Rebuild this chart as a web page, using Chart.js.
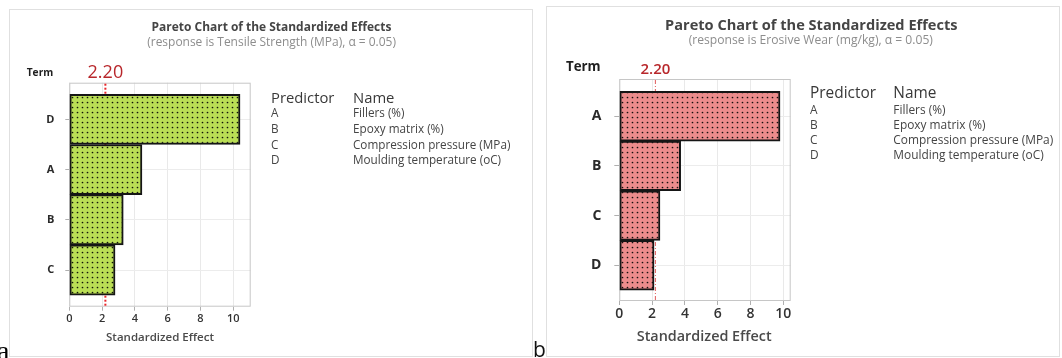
<!DOCTYPE html>
<html><head><meta charset="utf-8">
<script src="https://cdn.jsdelivr.net/npm/chart.js@4.4.1/dist/chart.umd.min.js"></script>
<style>
html,body{margin:0;padding:0;background:#fff;}
#wrap{position:relative;width:1062px;height:358px;overflow:hidden;background:#fff;font-family:'Open Sans',sans-serif;}
.panel{position:absolute;border:1px solid #e0e0e0;box-sizing:border-box;}
.t{position:absolute;white-space:nowrap;line-height:1;}
canvas{position:absolute;top:0;}
</style></head><body>
<div id="wrap">
 <div class="panel" style="left:9px;top:9px;width:524px;height:348px"></div>
 <div class="panel" style="left:546px;top:6px;width:514px;height:351px"></div>
 <canvas id="c1" width="530" height="358" style="left:0"></canvas>
 <canvas id="c2" width="522" height="358" style="left:540px"></canvas>
</div>
<script>
// ---- data ----
const TERMS_A = ['D','A','B','C'];
const EFFECTS_A = [10.41, 4.43, 3.29, 2.79];
const TERMS_B = ['A','B','C','D'];
const EFFECTS_B = [9.80, 3.74, 2.48, 2.12];
const CRITICAL = 2.20;
const X_TICKS = [0, 2, 4, 6, 8, 10];
const PREDICTORS = ['A','B','C','D'];
const NAMES = ['Fillers (%)','Epoxy matrix (%)','Compression pressure (MPa)','Moulding temperature (oC)'];
const TITLE = 'Pareto Chart of the Standardized Effects';
const SUB_A = '(response is Tensile Strength (MPa), \u03b1 = 0.05)';
const SUB_B = '(response is Erosive Wear (mg/kg), \u03b1 = 0.05)';
const X_TITLE = 'Standardized Effect';
const TERM_LABEL = 'Term';

Chart.defaults.font.family = "'Open Sans', sans-serif";

function pattern(fill, step){
  const c = document.createElement('canvas'); c.width = step; c.height = step;
  const g = c.getContext('2d');
  g.fillStyle = fill; g.fillRect(0,0,step,step);
  g.fillStyle = 'rgba(0,0,0,0.9)';
  g.beginPath(); g.arc(step/2, step/2, 0.85, 0, Math.PI*2); g.fill();
  return g.createPattern(c, 'repeat');
}

const paretoPlugin = {
  id: 'pareto',
  beforeDatasetsDraw(chart, args, o){
    const {ctx, chartArea:a} = chart;
    const x = chart.scales.x;
    ctx.save();
    ctx.strokeStyle = '#c6c6c6'; ctx.lineWidth = 1;
    ctx.strokeRect(a.left+0.5, a.top+0.5, a.width-1, a.height-1);
    const px = x.getPixelForValue(o.value);
    ctx.strokeStyle = o.color; ctx.lineWidth = o.width; ctx.setLineDash(o.dash);
    ctx.beginPath(); ctx.moveTo(px, a.top+1); ctx.lineTo(px, a.bottom); ctx.stroke();
    ctx.setLineDash([]);
    ctx.fillStyle = o.labelColor; ctx.font = o.labelFont;
    ctx.textAlign = 'center'; ctx.textBaseline = 'middle';
    ctx.fillText(o.value.toFixed(2), px, o.labelY);
    ctx.restore();
  }
};

function makeChart(id, terms, effects, c){
  return new Chart(document.getElementById(id), {
    type: 'bar',
    data: { datasets: [{
      data: effects.map((v,i)=>({x:v, y:i})),
      backgroundColor: pattern(c.fill, 5),
      borderColor: '#161616', borderWidth: 2, borderSkipped: false,
      barPercentage: 1, categoryPercentage: 1
    }]},
    options: {
      indexAxis: 'y', responsive: false, animation: false,
      layout: { padding: c.pad },
      plugins: {
        legend: {display:false}, tooltip: {enabled:false},
        pareto: { value: CRITICAL, color: c.lineColor, width: c.lineWidth, dash: c.dash,
                  labelColor: '#b8272b', labelFont: c.labelFont, labelY: c.labelY }
      },
      scales: {
        x: {
          type: 'linear', min: 0, max: c.xmax, offset: false,
          afterBuildTicks: s => { s.ticks = X_TICKS.map(v=>({value:v})); },
          afterFit: s => { s.height = 30; },
          grid: { color: '#e9e9e9', tickColor: '#b0b0b0', tickLength: 4, offset: false },
          border: { display: false },
          ticks: { padding: c.xpad, color: '#333', font: {size: c.fs, weight: '600'}, maxRotation: 0, autoSkip: false }
        },
        y: {
          type: 'linear', reverse: true, min: c.ymin, max: c.ymax, offset: false,
          afterBuildTicks: s => { s.ticks = terms.map((t,i)=>({value:i})); },
          afterFit: s => { s.width = 40; },
          grid: { color: '#ececec', tickColor: '#b0b0b0', tickLength: c.ytl, offset: false },
          border: { display: false },
          ticks: { callback: v => terms[v], padding: c.ypad, color: '#2a2a2a', font: {size: c.yfs, weight: '700'}, autoSkip: false }
        }
      }
    },
    plugins: [paretoPlugin]
  });
}

makeChart('c1', TERMS_A, EFFECTS_A, {
  fill: '#bade55', pad: {left:29.3, right:279.3, top:82.7, bottom:21.3},
  xmax: 11.06, ymin: -0.73, ymax: 3.73, fs: 11, yfs: 11, xpad: 2, ypad: 11, ytl: 4,
  lineColor: '#e8262a', lineWidth: 2, dash: [2,2], labelFont: "500 18px 'Open Sans'", labelY: 72.7
});
makeChart('c2', TERMS_B, EFFECTS_B, {
  fill: '#ec8c8c', pad: {left:39.3, right:271.3, top:79, bottom:27},
  xmax: 10.45, ymin: -0.75, ymax: 3.72, fs: 14, yfs: 14, xpad: 1, ypad: 13, ytl: 5,
  lineColor: '#e05a5a', lineWidth: 1, dash: [4,2,1,2], labelFont: "600 15px 'Open Sans'", labelY: 70
});

// ---- HTML text ----
const wrap = document.getElementById('wrap');
function txt(s, o){
  const e = document.createElement('div'); e.className = 't'; e.textContent = s;
  e.style.fontWeight = o.weight || '400'; e.style.color = o.color || '#333';
  if (o.family) e.style.fontFamily = o.family;
  e.style.fontSize = (o.size || 20) + 'px';
  wrap.appendChild(e);
  if (o.w){ const m = e.getBoundingClientRect().width; e.style.fontSize = ((o.size||20)*o.w/m) + 'px'; }
  e.style.left = o.x + 'px'; e.style.top = o.y + 'px';
  e.style.transform = o.align === 'left' ? 'translateY(-50%)' : 'translate(-50%,-50%)';
  return e;
}
function fitSize(s, w, weight){
  const e = txt(s, {x:0, y:-100, size:20, weight});
  const m = e.getBoundingClientRect().width; e.remove(); return 20*w/m;
}
function panelText(p){
  txt(TITLE, {x:p.tx, y:p.ty, w:p.tw, weight:'700', color:'#454545'});
  txt(p.sub, {x:p.sx, y:p.sy, w:p.sw, color:'#8d8d8d'});
  txt(TERM_LABEL, {x:p.termX, y:p.termY, w:p.termW, weight:'700', color:'#1f1f1f'});
  txt(X_TITLE, {x:p.axX, y:p.axY, w:p.axW, weight:'600', color:'#4a4a4a'});
  const hs = fitSize('Predictor', p.predW);
  txt('Predictor', {x:p.lx, y:p.hy, size:hs, align:'left', color:'#383838'});
  txt('Name', {x:p.nx, y:p.hy, size:hs, align:'left', color:'#383838'});
  const rs = fitSize(NAMES[2], p.rowW);
  PREDICTORS.forEach((k,i)=>{
    txt(k, {x:p.lx, y:p.rows[i], size:rs, align:'left', color:'#454545'});
    txt(NAMES[i], {x:p.nx, y:p.rows[i], size:rs, align:'left', color:'#454545'});
  });
}
panelText({tx:271.5, ty:26.7, tw:240, sub:SUB_A, sx:271.6, sy:42.3, sw:249,
  termX:40, termY:72.3, termW:26.6, axX:160, axY:337.3, axW:108,
  predW:63.5, lx:271, nx:353, hy:96.5, rowW:157.5, rows:[113.3,129,144.6,159.6]});
panelText({tx:811.3, ty:23.5, tw:292.6, sub:SUB_B, sx:810.8, sy:40.3, sw:244.6,
  termX:583.3, termY:66.7, termW:34.7, axX:704.2, axY:335.7, axW:135,
  predW:66, lx:810, nx:893.3, hy:93.3, rowW:160, rows:[109.5,125,140.4,155.3]});

const a = document.createElement('div'); a.className='t'; a.textContent='a';
a.style.cssText += "left:-3px;top:337px;font-size:28px;font-family:'Liberation Serif',serif;color:#000;";
wrap.appendChild(a);
const b = document.createElement('div'); b.className='t'; b.textContent='b';
b.style.cssText += "left:533px;top:338.5px;font-size:21px;font-family:'Open Sans',sans-serif;color:#111;";
wrap.appendChild(b);
</script>
</body></html>
